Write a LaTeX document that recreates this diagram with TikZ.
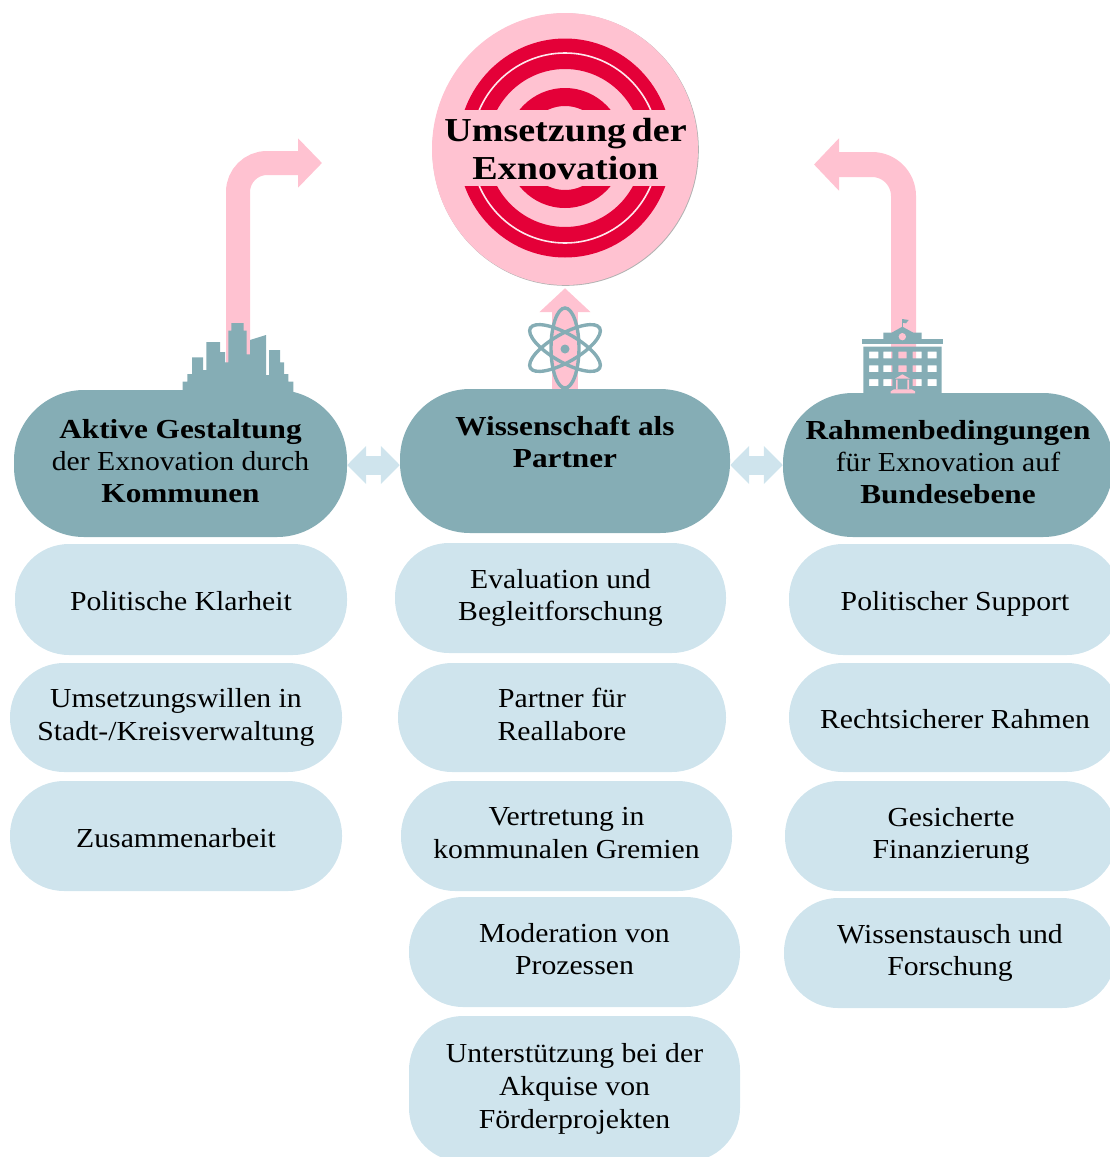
\documentclass[tikz,border=0pt]{standalone}
\usepackage{fontspec}
\setmainfont[FakeStretch=1.08,BoldFeatures={FakeStretch=1.137}]{Liberation Serif}
\usetikzlibrary{arrows.meta,calc,shapes.geometric}
\definecolor{teal1}{HTML}{85ADB5}
\definecolor{lblue}{HTML}{CFE4ED}
\definecolor{pinkA}{HTML}{FFC2D1}
\definecolor{redT}{HTML}{E40038}
\tikzset{
  txtnorm/.style={execute at begin node={\rule{0pt}{28pt}},execute at end node={\rule[-6pt]{0pt}{6pt}}},
  multi/.style={execute at begin node={\rule{0pt}{34pt}}},
  lbox/.style={fill=lblue,rounded corners=54pt,inner sep=0pt,align=center,txtnorm,font=\fontsize{27.5}{32.7}\selectfont},
  hbox/.style={fill=teal1,rounded corners=70pt,inner sep=0pt,align=center,txtnorm,multi,font=\fontsize{27.5}{32}\selectfont},
  pinkarrow/.style={draw=pinkA,line width=#1},
  icon/.style={fill=teal1},
  dbl/.style={draw=lblue,line width=19pt,{Triangle[length=19pt,width=37pt]}-{Triangle[length=19pt,width=37pt]}},
}
\begin{document}
\begin{tikzpicture}[x=1pt,y=-1pt]
\useasboundingbox (0,0) rectangle (1110,1157);
\clip (0,0) rectangle (1110,1157);
% headers
\node[hbox,minimum width=333pt,minimum height=147pt] (aktive) at (180.5,463.5) {\textbf{Aktive Gestaltung}\\der Exnovation durch\\\textbf{Kommunen}};
\node[hbox,minimum width=330pt,minimum height=144pt] (wiss) at (565,461) {\textbf{Wissenschaft als}\\\textbf{Partner}\\\mbox{}};
\node[hbox,minimum width=330pt,minimum height=144pt] (rahmen) at (948,465) {\textbf{Rahmenbedingungen}\\für Exnovation auf\\\textbf{Bundesebene}};
% target
\fill[gray!60] (565.6,149.6) ellipse (133.2 and 136.2);
\node[ellipse,fill=pinkA,minimum width=266pt,minimum height=272pt,inner sep=0pt] (target) at (565,149) {};
\fill[redT,even odd rule] (565,148) ellipse (107 and 109.5) ellipse (77.5 and 79);
\draw[white!60!pinkA,line width=1.6pt] (565,148) ellipse (93.5 and 95);
\fill[redT,even odd rule] (565,148) ellipse (59 and 60) ellipse (41 and 42);
\fill[pinkA] (450,110) rectangle (680,186);
\node[inner sep=0pt,align=center,font=\fontsize{33.5}{38}\selectfont\bfseries] (title) at (565.5,149.5) {Umsetzung\hspace{-.12em} der\\Exnovation};
% block arrows
\coordinate (lefttip) at (322,163);
\coordinate (righttip) at (814,164.5);
\draw[pinkarrow=24pt,rounded corners=29pt,-{Triangle[length=24pt,width=48pt]}] ([xshift=57.5pt]aktive.north) |- (lefttip);
\draw[pinkarrow=25pt,rounded corners=31.5pt,-{Triangle[length=25pt,width=51pt]}] ([xshift=-44.5pt]rahmen.north) |- (righttip);
\draw[pinkarrow=26pt,-{Triangle[length=24pt,width=50pt]}] (wiss.north) -- ([yshift=-3pt]target.south);
\draw[dbl] ([yshift=-1.5pt]aktive.east) -- ([yshift=-4pt]wiss.west);
\draw[dbl] ([yshift=-4pt]wiss.east) -- (rahmen.west);
% city icon
\begin{scope}[shift={(170,130)},x=.33333pt,y=-.33333pt]
\fill[icon] (38,792)--(38,755)--(52,755)--(52,732)--(66,732)--(66,682)--(99,682)--(99,720)--(109,720)--(109,636)--(150,636)--(150,666)--(165,666)--(165,697)--(175,697)--(175,602)--(184,602)--(184,579)--(221,579)--(221,602)--(230,602)--(230,673)--(240,673)--(240,630)--(288,615)--(288,735)--(297,735)--(297,660)--(330,660)--(330,697)--(342,697)--(342,732)--(355,732)--(355,755)--(370,755)--(370,792)--cycle;
\end{scope}
% building icon
\begin{scope}[shift={(800,130)},x=.33333pt,y=-.33333pt]
\fill[icon,even odd rule] (190,650) rectangle (425,795)
  (207,665) rectangle (235,685) (250,665) rectangle (277,685) (295,665) rectangle (320,685) (338,665) rectangle (365,685) (383,665) rectangle (410,685)
  (207,706) rectangle (235,726) (250,706) rectangle (277,726) (295,706) rectangle (320,726) (338,706) rectangle (365,726) (383,706) rectangle (410,726)
  (207,747) rectangle (235,768) (250,747) rectangle (277,768) (338,747) rectangle (365,768) (383,747) rectangle (410,768);
\fill[icon] (185,628) rectangle (430,643);
\fill[icon] (250,630)--(250,608)--(275,608)--(307,590)--(340,608)--(365,608)--(365,630)--cycle;
\fill[pinkA] (307,620) circle (11);
\draw[teal1,line width=1pt] (307,592)--(307,567);
\fill[icon] (307,567)--(326,570)--(318,580)--(307,578)--cycle;
\fill[pinkA] (285,746)--(307,733)--(330,746)--cycle;
\fill[pinkA] (288,749) rectangle (293,778) (322,749) rectangle (327,778);
\fill[pinkA] (272,784)--(282,778)--(335,778)--(345,784)--(345,790)--(272,790)--cycle;
\end{scope}
% atom
\begin{scope}[teal1,line width=3.4pt]
\draw (565,348) ellipse (14 and 40);
\draw[rotate around={60:(565,348)}] (565,348) ellipse (14 and 40);
\draw[rotate around={-60:(565,348)}] (565,348) ellipse (14 and 40);
\end{scope}
\fill[teal1] (565,349) circle (4.5);
% left boxes
\node[lbox,minimum width=332pt,minimum height=111pt] (l1) at (181,599.5) {Politische Klarheit};
\node[lbox,multi,minimum width=332pt,minimum height=109pt] (l2) at (176,717.5) {Umsetzungswillen in\\Stadt-/Kreisverwaltung};
\node[lbox,minimum width=332pt,minimum height=110pt] (l3) at (176,836) {Zusammenarbeit};
% middle boxes
\node[lbox,multi,minimum width=331pt,minimum height=110pt] (m1) at (560.5,598) {Evaluation und\\Begleitforschung};
\node[lbox,multi,minimum width=328pt,minimum height=109pt] (m2) at (562,717.5) {Partner für\\Reallabore};
\node[lbox,multi,minimum width=331pt,minimum height=110pt] (m3) at (566.5,836) {Vertretung in\\kommunalen Gremien};
\node[lbox,multi,minimum width=331pt,minimum height=110pt] (m4) at (574.5,952) {Moderation von\\Prozessen};
\node[lbox,multi,minimum width=331pt,minimum height=146pt] (m5) at (574.5,1089) {Unterstützung bei der\\Akquise von\\Förderprojekten};
% right boxes
\node[lbox,minimum width=332pt,minimum height=111pt] (r1) at (955,599.5) {Politischer Support};
\node[lbox,minimum width=332pt,minimum height=109pt] (r2) at (955,717.5) {Rechtsicherer Rahmen};
\node[lbox,multi,minimum width=332pt,minimum height=110pt] (r3) at (951,836) {Gesicherte\\Finanzierung};
\node[lbox,multi,minimum width=332pt,minimum height=110pt] (r4) at (950,953) {Wissenstausch und\\Forschung};
\end{tikzpicture}
\end{document}
